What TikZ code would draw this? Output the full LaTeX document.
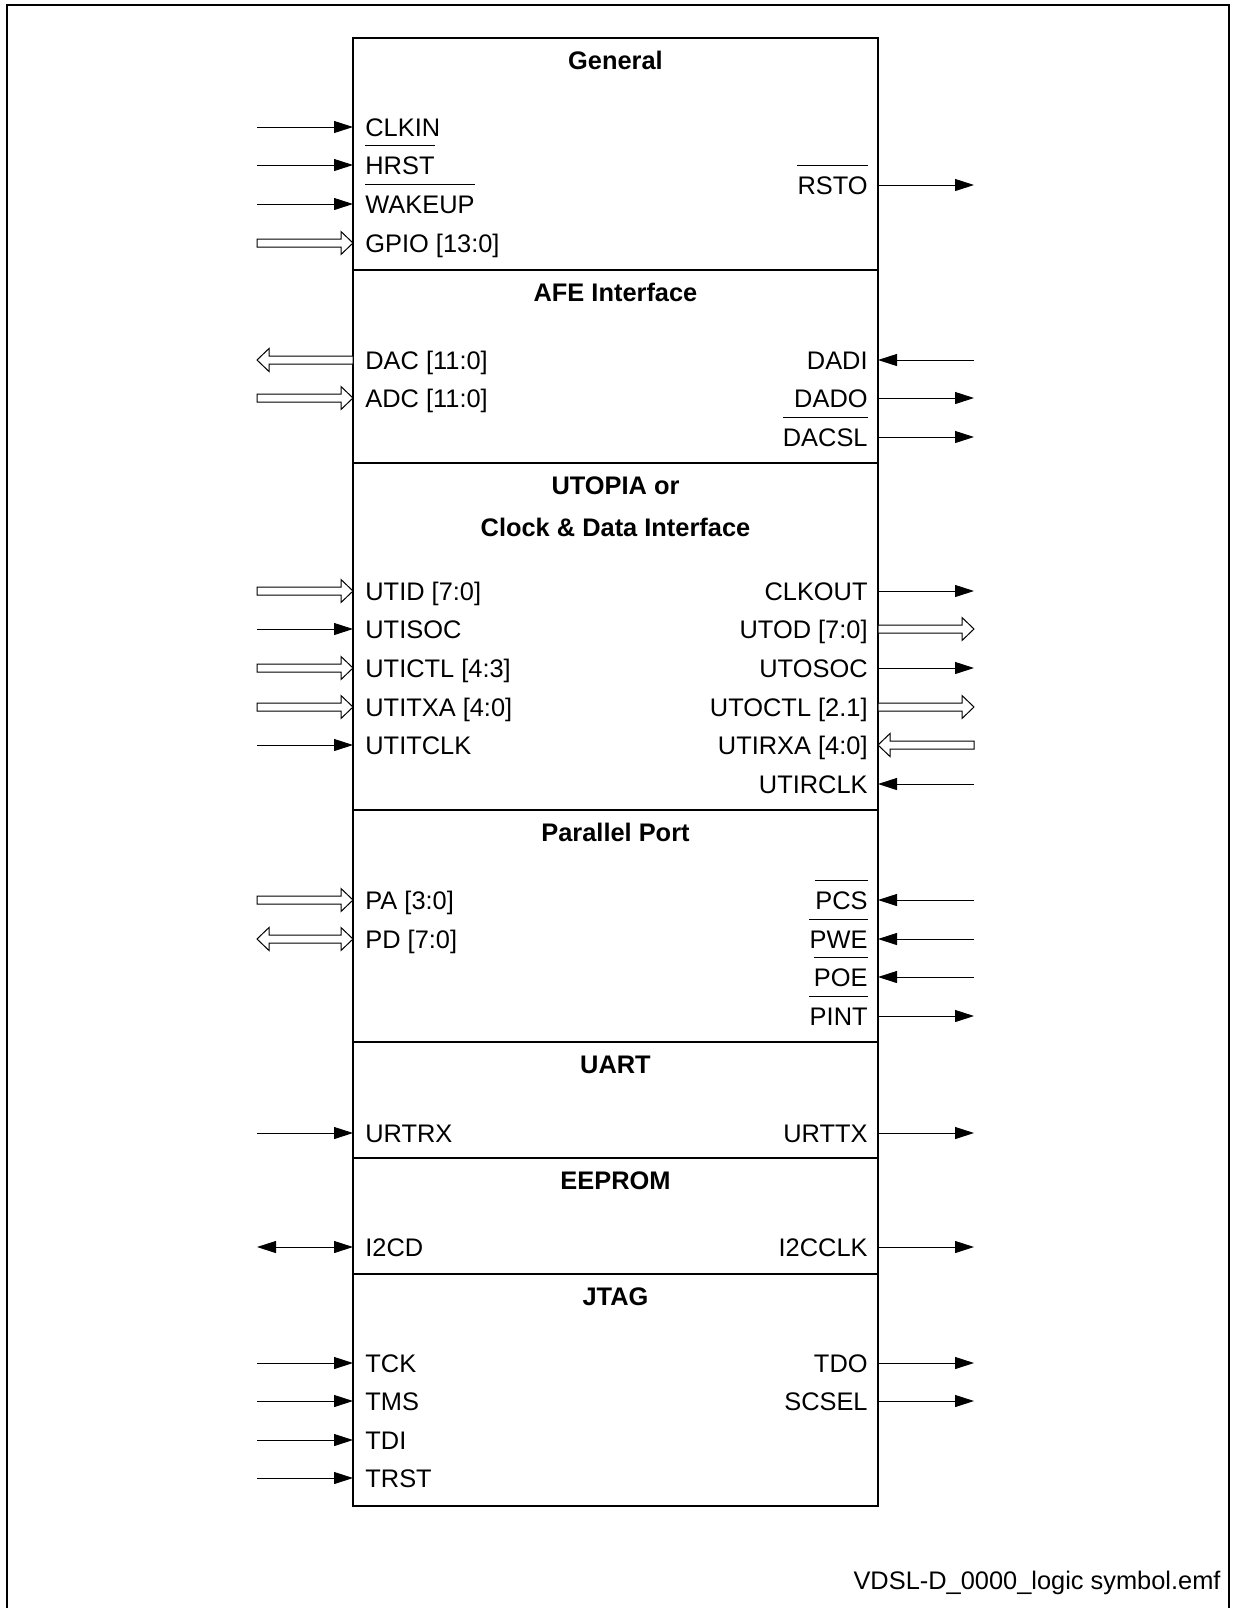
\documentclass[tikz,border=0pt]{standalone}
\usepackage{fontspec}
\setmainfont{Liberation Sans}
\usetikzlibrary{arrows.meta,calc}

\newcommand\pinfont{\fontsize{12.7}{15}\selectfont}
\tikzset{
  pin/.style={inner xsep=6pt,inner ysep=0pt,text height=9.1pt,text depth=0pt},
  lpin/.style={pin,anchor=west},
  rpin/.style={pin,anchor=east,inner xsep=5pt},
  title/.style={pin,font=\pinfont\bfseries},
  sig/.style={line width=.5pt,-{Triangle[length=9.5pt,width=6pt]}},
  dsig/.style={line width=.5pt,{Triangle[length=9.5pt,width=6pt]}-{Triangle[length=9.5pt,width=6pt]}},
  bus/.style={line width=.5pt,fill=white},
  bar/.style={line width=.6pt},
  edge line/.style={line width=.75pt}
}
% hollow bus arrow from #1 to #2 (horizontal)
\newcommand\busarrow[2]{%
  \draw[bus] let \p1=(#1),\p2=(#2),\n1={\x2>\x1?\x2-6pt:\x2+6pt} in
    (\x1,\y1+2pt) -- (\n1*1pt,\y1+2pt) -- (\n1*1pt,\y1+5.75pt) -- (\x2,\y1)
    -- (\n1*1pt,\y1-5.75pt) -- (\n1*1pt,\y1-2pt) -- (\x1,\y1-2pt) -- cycle;}
% hollow bus arrow with heads at both ends, #1 left of #2
\newcommand\busboth[2]{%
  \draw[bus] let \p1=(#1),\p2=(#2) in
    (\x1,\y1) -- (\x1+6pt,\y1+5.75pt) -- (\x1+6pt,\y1+2pt) -- (\x2-6pt,\y1+2pt)
    -- (\x2-6pt,\y1+5.75pt) -- (\x2,\y1) -- (\x2-6pt,\y1-5.75pt) -- (\x2-6pt,\y1-2pt)
    -- (\x1+6pt,\y1-2pt) -- (\x1+6pt,\y1-5.75pt) -- cycle;}

\begin{document}
\begin{tikzpicture}[x=.5pt,y=-.5pt,
    every node/.style={font=\pinfont}]
  \useasboundingbox (0,0) rectangle (1233,1608);
  % frame
  \draw[edge line] (7,1608) -- (7,5) -- (1229,5) -- (1229,1608);
  % block
  \draw[edge line] (353,38) rectangle (878,1506);
  \foreach \y in {270,463,810,1042,1158,1274}
    \draw[edge line] (353,\y) -- (878,\y);
  \coordinate (lft) at (257,0);
  \coordinate (rgt) at (974,0);

  % General
  \node[title] (tgen) at (615.5,60) {General};
  \node[lpin] (clkin) at (353,127) {CLKIN};
  \node[lpin] (hrst) at (353,165) {HRST};
  \node[lpin] (wakeup) at (353,204) {WAKEUP};
  \node[lpin] (gpio) at (353,243) {GPIO [13:0]};
  \node[rpin] (rsto) at (878,185) {RSTO};
  \draw[sig] (clkin -| lft) -- (clkin);
  \draw[sig] (hrst -| lft) -- (hrst);
  \draw[sig] (wakeup -| lft) -- (wakeup);
  \busarrow{gpio -| lft}{gpio.west}
  \draw[sig] (rsto) -- (rsto -| rgt);

  % AFE Interface
  \node[title] (tafe) at (615.5,292) {AFE Interface};
  \node[lpin] (dac) at (353,360) {DAC [11:0]};
  \node[lpin] (adc) at (353,398) {ADC [11:0]};
  \node[rpin] (dadi) at (878,360) {DADI};
  \node[rpin] (dado) at (878,398) {DADO};
  \node[rpin] (dacsl) at (878,437) {DACSL};
  \busarrow{dac.west}{dac -| lft}
  \busarrow{adc -| lft}{adc.west}
  \draw[sig] (dadi -| rgt) -- (dadi);
  \draw[sig] (dado) -- (dado -| rgt);
  \draw[sig] (dacsl) -- (dacsl -| rgt);

  % UTOPIA or Clock & Data Interface
  \node[title] (tuto) at (615.5,485) {UTOPIA or};
  \node[title] (tcdi) at (615.5,527) {Clock \& Data Interface};
  \node[lpin] (utid) at (353,591) {UTID [7:0]};
  \node[lpin] (utisoc) at (353,629) {UTISOC};
  \node[lpin] (utictl) at (353,668) {UTICTL [4:3]};
  \node[lpin] (utitxa) at (353,707) {UTITXA [4:0]};
  \node[lpin] (utitclk) at (353,745) {UTITCLK};
  \node[rpin] (clkout) at (878,591) {CLKOUT};
  \node[rpin] (utod) at (878,629) {UTOD [7:0]};
  \node[rpin] (utosoc) at (878,668) {UTOSOC};
  \node[rpin] (utoctl) at (878,707) {UTOCTL [2.1]};
  \node[rpin] (utirxa) at (878,745) {UTIRXA [4:0]};
  \node[rpin] (utirclk) at (878,784) {UTIRCLK};
  \busarrow{utid -| lft}{utid.west}
  \draw[sig] (utisoc -| lft) -- (utisoc);
  \busarrow{utictl -| lft}{utictl.west}
  \busarrow{utitxa -| lft}{utitxa.west}
  \draw[sig] (utitclk -| lft) -- (utitclk);
  \draw[sig] (clkout) -- (clkout -| rgt);
  \busarrow{utod.east}{utod -| rgt}
  \draw[sig] (utosoc) -- (utosoc -| rgt);
  \busarrow{utoctl.east}{utoctl -| rgt}
  \busarrow{utirxa -| rgt}{utirxa.east}
  \draw[sig] (utirclk -| rgt) -- (utirclk);

  % Parallel Port
  \node[title] (tpar) at (615.5,832) {Parallel Port};
  \node[lpin] (pa) at (353,900) {PA [3:0]};
  \node[lpin] (pd) at (353,939) {PD [7:0]};
  \node[rpin] (pcs) at (878,900) {PCS};
  \node[rpin] (pwe) at (878,939) {PWE};
  \node[rpin] (poe) at (878,977) {POE};
  \node[rpin] (pint) at (878,1016) {PINT};
  \busarrow{pa -| lft}{pa.west}
  \busboth{pd -| lft}{pd.west}
  \draw[sig] (pcs -| rgt) -- (pcs);
  \draw[sig] (pwe -| rgt) -- (pwe);
  \draw[sig] (poe -| rgt) -- (poe);
  \draw[sig] (pint) -- (pint -| rgt);

  % UART
  \node[title] (tuart) at (615.5,1064) {UART};
  \node[lpin] (urtrx) at (353,1133) {URTRX};
  \node[rpin] (urttx) at (878,1133) {URTTX};
  \draw[sig] (urtrx -| lft) -- (urtrx);
  \draw[sig] (urttx) -- (urttx -| rgt);

  % EEPROM
  \node[title] (teep) at (615.5,1180) {EEPROM};
  \node[lpin] (i2cd) at (353,1247) {I2CD};
  \node[rpin] (i2cclk) at (878,1247) {I2CCLK};
  \draw[dsig] (i2cd -| lft) -- (i2cd);
  \draw[sig] (i2cclk) -- (i2cclk -| rgt);

  % JTAG
  \node[title] (tjtag) at (615.5,1296) {JTAG};
  \node[lpin] (tck) at (353,1363) {TCK};
  \node[lpin] (tms) at (353,1401) {TMS};
  \node[lpin] (tdi) at (353,1440) {TDI};
  \node[lpin] (trst) at (353,1478) {TRST};
  \node[rpin] (tdo) at (878,1363) {TDO};
  \node[rpin] (scsel) at (878,1401) {SCSEL};
  \foreach \n in {tck,tms,tdi,trst}
    \draw[sig] (\n -| lft) -- (\n);
  \foreach \n in {tdo,scsel}
    \draw[sig] (\n) -- (\n -| rgt);

  % active-low bars
  \foreach \n in {hrst,wakeup}
    \draw[bar] ([xshift=6pt,yshift=5pt]\n.north west) -- ([xshift=-6pt,yshift=5pt]\n.north east);
  \foreach \n in {rsto,dacsl,pcs,pwe,poe,pint}
    \draw[bar] ([xshift=5pt,yshift=5pt]\n.north west) -- ([xshift=-5pt,yshift=5pt]\n.north east);

  \node[anchor=base east,inner sep=0pt] (fname) at (1221,1589)
    {VDSL-D\_0000\_logic symbol.emf};
\end{tikzpicture}
\end{document}
